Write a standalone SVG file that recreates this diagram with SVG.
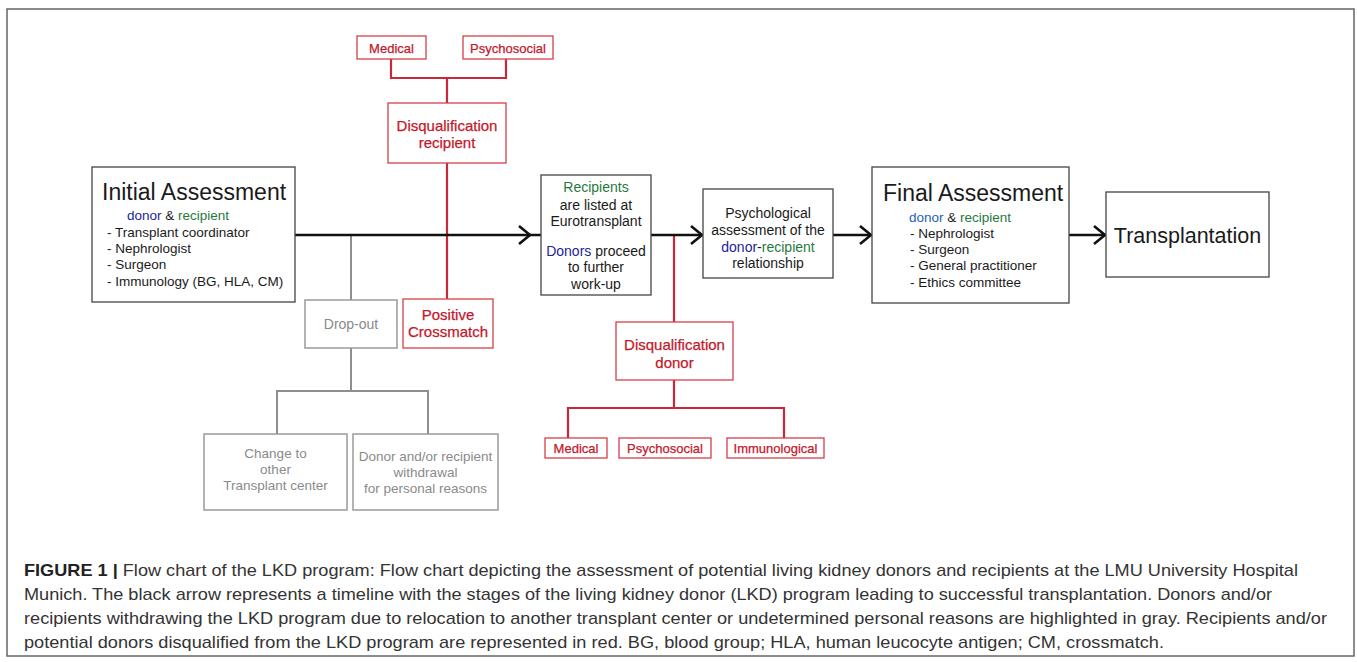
<svg xmlns="http://www.w3.org/2000/svg" width="1357" height="662" viewBox="0 0 1357 662">
<defs>
<style>
.t{font-family:"Liberation Sans",Arial,sans-serif;}
.bk{fill:#fff;stroke:#444;stroke-width:1.3;}
.rd{fill:#fff;stroke:#d6404a;stroke-width:1.3;}
.gy{fill:#fff;stroke:#9a9a9a;stroke-width:1.5;}
.rt{fill:#c4182b;font-family:"Liberation Sans",Arial,sans-serif;stroke:#c4182b;stroke-width:0.25;}
.gt{fill:#8a8a8a;font-family:"Liberation Sans",Arial,sans-serif;}
.kt{fill:#1a1a1a;font-family:"Liberation Sans",Arial,sans-serif;}
.blue{fill:#23239a;}
.blue2{fill:#1f5fbf;}
.green{fill:#1f7a3c;}
.rl{stroke:#c8283a;stroke-width:2.2;fill:none;}
.gl{stroke:#8e8e8e;stroke-width:2;fill:none;}
.al{stroke:#111;stroke-width:2.6;fill:none;}
.cap{font-family:"Liberation Sans",Arial,sans-serif;font-size:17px;fill:#333;}
</style>
<marker id="ah" markerUnits="userSpaceOnUse" markerWidth="16" markerHeight="20" refX="13" refY="10" orient="auto">
<path d="M2,1 L13,10 L2,19" fill="none" stroke="#111" stroke-width="2.6"/>
</marker>
</defs>
<rect x="7" y="9" width="1347" height="647" fill="#fff" stroke="#666" stroke-width="1.5"/>

<g id="connectors">
<path class="rl" d="M391,59 V78 H506 V59 M447,78 V103"/>
<path class="rl" d="M447,163 V299"/>
<path class="rl" d="M674,235 V322"/>
<path class="rl" d="M674,380 V408 M568,438 V408 H784 V438"/>
<path class="gl" d="M351,236 V300"/>
<path class="gl" d="M351,348 V391 M277,434 V391 H428 V434"/>
<line class="al" x1="295" y1="235" x2="702" y2="235" marker-end="url(#ah)"/>
<path d="M519,226 L530,235 L519,244" fill="none" stroke="#111" stroke-width="2.6"/>
<line class="al" x1="833" y1="235" x2="871" y2="235" marker-end="url(#ah)"/>
<line class="al" x1="1069" y1="235" x2="1105" y2="235" marker-end="url(#ah)"/>
</g>

<g id="medical-r">
<rect class="rd" x="357" y="36" width="69" height="23"/>
<text class="rt" x="391.5" y="52.5" font-size="13" text-anchor="middle">Medical</text>
</g>
<g id="psychosocial-r">
<rect class="rd" x="463" y="36" width="90" height="23"/>
<text class="rt" x="508" y="52.5" font-size="13" text-anchor="middle">Psychosocial</text>
</g>
<g id="disq-recipient">
<rect class="rd" x="388" y="103" width="118" height="60"/>
<text class="rt" x="447" y="131" font-size="15" text-anchor="middle">Disqualification</text>
<text class="rt" x="447" y="148" font-size="15" text-anchor="middle">recipient</text>
</g>
<g id="positive-crossmatch">
<rect class="rd" x="403" y="299" width="90" height="49"/>
<text class="rt" x="448" y="319.5" font-size="15" text-anchor="middle">Positive</text>
<text class="rt" x="448" y="337" font-size="15" text-anchor="middle">Crossmatch</text>
</g>

<g id="initial-assessment">
<rect class="bk" x="92" y="167" width="203" height="135"/>
<text class="kt" x="102" y="200" font-size="23">Initial Assessment</text>
<text class="kt" x="127" y="219.5" font-size="13.5"><tspan class="blue">donor</tspan> &amp; <tspan class="green">recipient</tspan></text>
<text class="kt" x="107" y="236.5" font-size="13.5">- Transplant coordinator</text>
<text class="kt" x="107" y="252.5" font-size="13.5">- Nephrologist</text>
<text class="kt" x="107" y="269" font-size="13.5">- Surgeon</text>
<text class="kt" x="107" y="285.5" font-size="13.5">- Immunology (BG, HLA, CM)</text>
</g>

<g id="drop-out">
<rect class="gy" x="305" y="300" width="92" height="48"/>
<text class="gt" x="351" y="329" font-size="14" text-anchor="middle">Drop-out</text>
</g>
<g id="change-center">
<rect class="gy" x="204" y="434" width="143" height="76"/>
<text class="gt" x="275.5" y="458" font-size="13.5" text-anchor="middle">Change to</text>
<text class="gt" x="275.5" y="473.5" font-size="13.5" text-anchor="middle">other</text>
<text class="gt" x="275.5" y="490" font-size="13.5" text-anchor="middle">Transplant center</text>
</g>
<g id="withdrawal">
<rect class="gy" x="353" y="434" width="145" height="76"/>
<text class="gt" x="425.5" y="461" font-size="13.5" text-anchor="middle">Donor and/or recipient</text>
<text class="gt" x="425.5" y="477" font-size="13.5" text-anchor="middle">withdrawal</text>
<text class="gt" x="425.5" y="493" font-size="13.5" text-anchor="middle">for personal reasons</text>
</g>

<g id="listing">
<rect class="bk" x="541" y="175" width="110" height="120"/>
<text class="kt" x="596" y="192" font-size="14" text-anchor="middle"><tspan class="green">Recipients</tspan></text>
<text class="kt" x="596" y="210" font-size="14" text-anchor="middle">are listed at</text>
<text class="kt" x="596" y="226" font-size="14" text-anchor="middle">Eurotransplant</text>
<text class="kt" x="596" y="256" font-size="14" text-anchor="middle"><tspan class="blue">Donors</tspan> proceed</text>
<text class="kt" x="596" y="272" font-size="14" text-anchor="middle">to further</text>
<text class="kt" x="596" y="289" font-size="14" text-anchor="middle">work-up</text>
</g>

<g id="disq-donor">
<rect class="rd" x="616" y="322" width="117" height="58"/>
<text class="rt" x="674.5" y="350" font-size="15" text-anchor="middle">Disqualification</text>
<text class="rt" x="674.5" y="368" font-size="15" text-anchor="middle">donor</text>
</g>
<g id="medical-d">
<rect class="rd" x="545" y="438" width="62" height="20"/>
<text class="rt" x="576" y="452.5" font-size="13" text-anchor="middle">Medical</text>
</g>
<g id="psychosocial-d">
<rect class="rd" x="619" y="438" width="92" height="20"/>
<text class="rt" x="665" y="452.5" font-size="13" text-anchor="middle">Psychosocial</text>
</g>
<g id="immunological-d">
<rect class="rd" x="727" y="438" width="97" height="20"/>
<text class="rt" x="775.5" y="452.5" font-size="13" text-anchor="middle">Immunological</text>
</g>

<g id="psychological">
<rect class="bk" x="703" y="189" width="130" height="89"/>
<text class="kt" x="768" y="218" font-size="14" text-anchor="middle">Psychological</text>
<text class="kt" x="768" y="235" font-size="14" text-anchor="middle">assessment of the</text>
<text class="kt" x="768" y="251.5" font-size="14" text-anchor="middle"><tspan class="blue">donor</tspan>-<tspan class="green">recipient</tspan></text>
<text class="kt" x="768" y="268" font-size="14" text-anchor="middle">relationship</text>
</g>

<g id="final-assessment">
<rect class="bk" x="872" y="167" width="197" height="136"/>
<text class="kt" x="883" y="201" font-size="23">Final Assessment</text>
<text class="kt" x="909" y="221.5" font-size="13.5"><tspan class="blue2">donor</tspan> &amp; <tspan class="green">recipient</tspan></text>
<text class="kt" x="910" y="237.5" font-size="13.5">- Nephrologist</text>
<text class="kt" x="910" y="254" font-size="13.5">- Surgeon</text>
<text class="kt" x="910" y="270" font-size="13.5">- General practitioner</text>
<text class="kt" x="910" y="286.5" font-size="13.5">- Ethics committee</text>
</g>

<g id="transplantation">
<rect class="bk" x="1106" y="192" width="163" height="85"/>
<text class="kt" x="1187.5" y="243" font-size="21.5" text-anchor="middle">Transplantation</text>
</g>

<g id="caption">
<text class="cap" x="24" y="575.5" textLength="1274" lengthAdjust="spacingAndGlyphs"><tspan font-weight="bold" fill="#222">FIGURE 1 |</tspan> Flow chart of the LKD program: Flow chart depicting the assessment of potential living kidney donors and recipients at the LMU University Hospital</text>
<text class="cap" x="24" y="599.5" textLength="1248" lengthAdjust="spacingAndGlyphs">Munich. The black arrow represents a timeline with the stages of the living kidney donor (LKD) program leading to successful transplantation. Donors and/or</text>
<text class="cap" x="24" y="623.5" textLength="1303" lengthAdjust="spacingAndGlyphs">recipients withdrawing the LKD program due to relocation to another transplant center or undetermined personal reasons are highlighted in gray. Recipients and/or</text>
<text class="cap" x="24" y="647.5" textLength="1140" lengthAdjust="spacingAndGlyphs">potential donors disqualified from the LKD program are represented in red. BG, blood group; HLA, human leucocyte antigen; CM, crossmatch.</text>
</g>
</svg>
